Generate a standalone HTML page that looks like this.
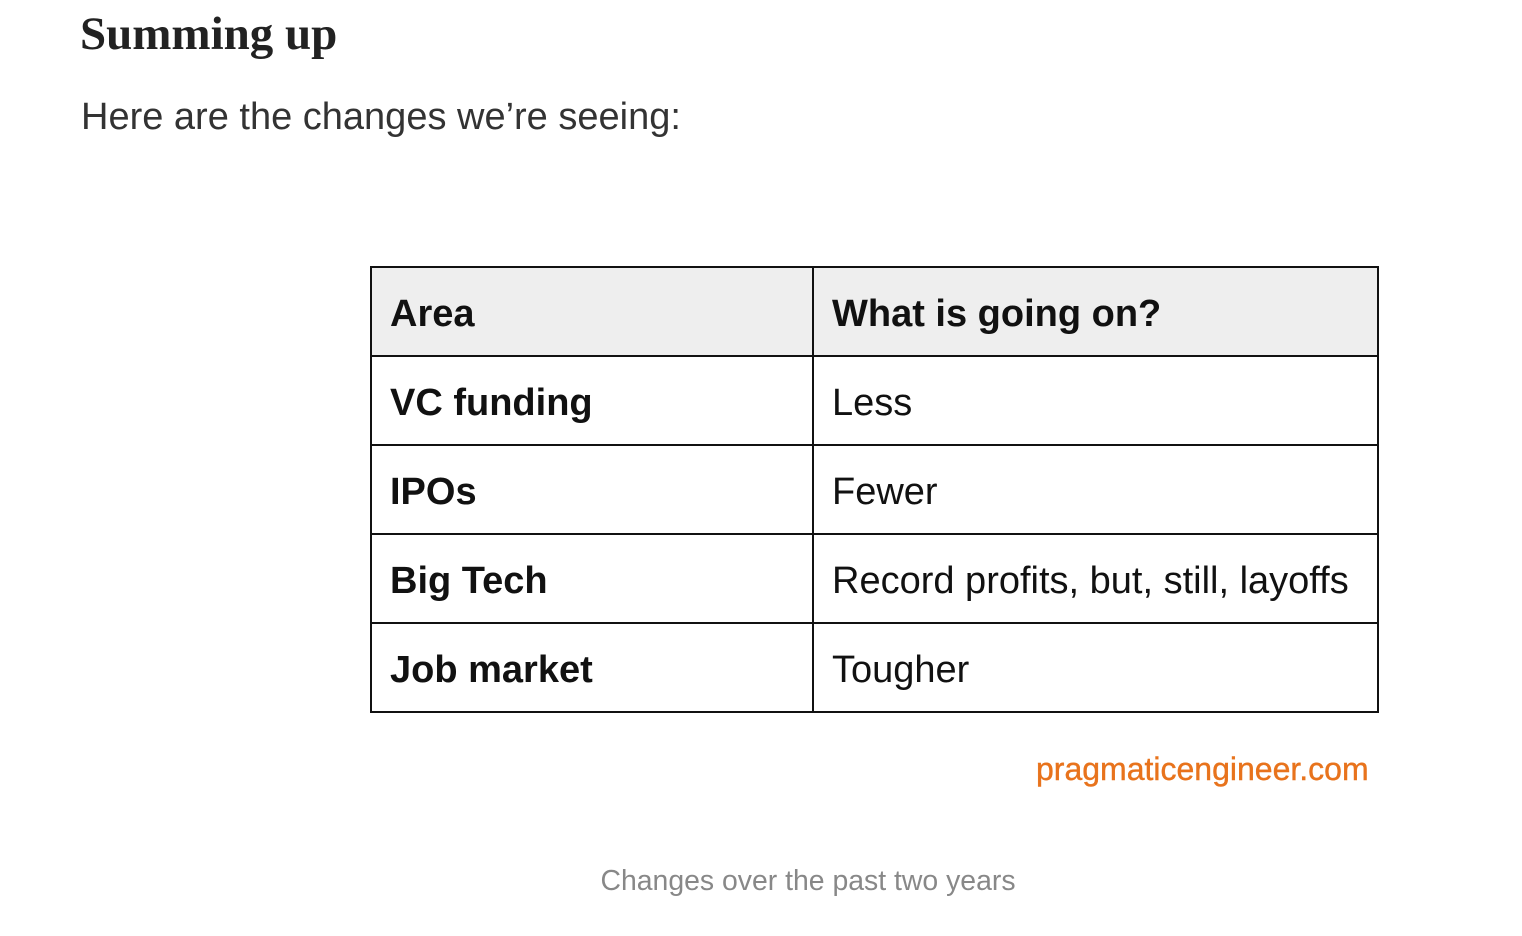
<!DOCTYPE html>
<html><head><meta charset="utf-8"><style>
html,body{margin:0;padding:0;background:#fff;width:1522px;height:936px;overflow:hidden;position:relative}
.h{position:absolute;left:80px;top:6px;font-family:"Liberation Serif",serif;font-weight:bold;font-size:47px;color:#222;margin:0;line-height:56px}
.p{position:absolute;left:81px;top:94px;font-family:"Liberation Sans",sans-serif;font-size:38px;color:#333;margin:0;line-height:46px}
table{position:absolute;left:370px;top:266px;width:1009px;border-collapse:collapse;font-family:"Liberation Sans",sans-serif;font-size:38px;color:#111}
td{border:2px solid #111;padding:5px 0 0 18px;height:82px;vertical-align:middle}
tr.hd td{background:#eeeeee}
td.a{width:422px;font-weight:bold}
tr.hd td{font-weight:bold}
.w{position:absolute;left:1036px;top:750px;font-family:"Liberation Sans",sans-serif;font-size:32px;color:#e8731c;line-height:38px;-webkit-text-stroke:0.4px #e8731c}
.c{position:absolute;left:0;width:1616px;top:864px;text-align:center;font-family:"Liberation Sans",sans-serif;font-size:28.4px;color:#888;line-height:34px}
</style></head><body>
<h2 class="h">Summing up</h2>
<p class="p">Here are the changes we’re seeing:</p>
<table>
<tr class="hd"><td class="a">Area</td><td>What is going on?</td></tr>
<tr><td class="a">VC funding</td><td>Less</td></tr>
<tr><td class="a">IPOs</td><td>Fewer</td></tr>
<tr><td class="a">Big Tech</td><td>Record profits, but, still, layoffs</td></tr>
<tr><td class="a">Job market</td><td>Tougher</td></tr>
</table>
<div class="w">pragmaticengineer.com</div>
<div class="c">Changes over the past two years</div>
</body></html>
